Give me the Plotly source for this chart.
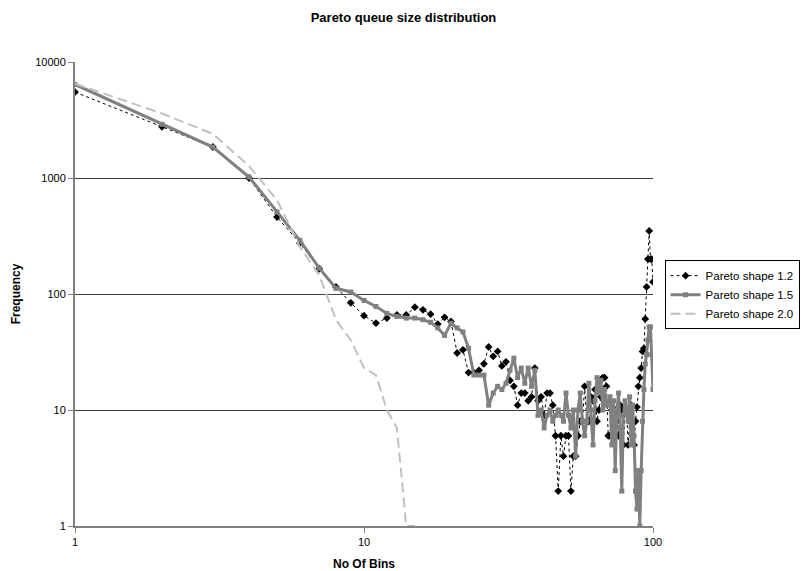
import plotly.graph_objects as go

bins = list(range(1, 101))

shape_12 = [5500, 2760, 1850, 1000, 460, 275, 165, 115, 84, 65,
            56, 62, 66, 66, 77, 73, 67, 55, 63, 58,
            31, 33, 21, 21, 22, 25, 35, 29, 32, 24,
            26, 18, 16, 11, 14, 14, 12, 13, 23, 12,
            13, 9, 14, 14, 11, 6, 2, 6, 4, 6,
            6, 2, 4, 4, 6, 8, 8, 16, 8, 8,
            13, 12, 15, 8, 10, 13, 19, 19, 16, 6,
            6, 10, 8, 10, 8, 6, 11, 10, 5, 10,
            10, 5, 8, 11, 6, 5, 8, 10.6, 16, 19,
            23, 32, 34, 61, 115, 200, 350, 200, 200, 127]

shape_15 = [6400, 2900, 1850, 1020, 510, 290, 167, 112, 104, 88,
            78, 68, 64, 62, 62, 60, 57, 51, 44, 56,
            51, 47, 34, 20, 20, 20, 11, 14, 16, 15,
            17, 22, 28, 19, 23, 17, 23, 16, 22, 9,
            10, 7, 9, 10, 8, 9, 10, 9, 8, 14,
            9, 7, 10, 4, 10, 14, 8, 6, 8, 17,
            10, 5, 12, 19, 14, 18, 10, 15, 11, 12,
            13, 5, 12, 3, 10, 14, 7, 2, 9, 12,
            10, 8, 13, 5, 11, 6, 2, 1.4, 3, 1,
            3, 8, 15, 25, 30, 40, 52, 52, 30, 15]

shape_20 = [6500, 3600, 2400, 1270, 645, 255, 145, 60, 40, 23,
            20, 10, 7, 1, 1] + [None] * 85

y_ticks = [1, 10, 100, 1000, 10000]
y_labels = ["1", "10", "100", "1000", "10000"]
x_ticks = [1, 10, 100]
x_labels = ["1", "10", "100"]

fig = go.Figure()
fig.add_trace(go.Scatter(
    x=bins, y=shape_12, name="Pareto shape 1.2", mode="lines+markers",
    line=dict(color="black", width=1, dash="dot"),
    marker=dict(symbol="diamond", size=6, color="black"),
))
fig.add_trace(go.Scatter(
    x=bins, y=shape_15, name="Pareto shape 1.5", mode="lines+markers",
    line=dict(color="#808080", width=3),
    marker=dict(symbol="square", size=5, color="#808080"),
))
fig.add_trace(go.Scatter(
    x=bins, y=shape_20, name="Pareto shape 2.0", mode="lines",
    line=dict(color="#c0c0c0", width=2, dash="10px,5px"),
))

font = "Liberation Sans, Arial, sans-serif"
fig.update_layout(
    width=807, height=571,
    margin=dict(l=75, r=154, t=62, b=45, autoexpand=False),
    paper_bgcolor="white", plot_bgcolor="white",
    font=dict(family=font, size=11, color="black"),
    title=dict(text="<b>Pareto queue size distribution</b>", x=0.5, xanchor="center",
               y=0.970, yanchor="middle", font=dict(size=13, family=font)),
    showlegend=True,
    legend=dict(x=1.020, y=0.573, xanchor="left", yanchor="top",
                bordercolor="black", borderwidth=1, bgcolor="white",
                font=dict(size=11.5, family=font), tracegroupgap=0,
                itemwidth=30),
)
fig.update_xaxes(
    type="log", range=[0, 2], tickvals=x_ticks, ticktext=x_labels,
    showgrid=False, showline=True, linecolor="#808080", linewidth=2,
    ticks="outside", ticklen=5, tickcolor="#808080",
    title=dict(text="<b>No Of Bins</b>", font=dict(size=12), standoff=12),
    zeroline=False,
)
fig.update_yaxes(
    type="log", range=[0, 4], tickvals=y_ticks, ticktext=y_labels,
    showgrid=True, gridcolor="#404040", gridwidth=1,
    showline=True, linecolor="#808080", linewidth=2,
    ticks="outside", ticklen=5, tickcolor="#808080",
    title=dict(text="<b>Frequency</b>", font=dict(size=12), standoff=12),
    zeroline=False,
)

fig.write_html("out.html")
